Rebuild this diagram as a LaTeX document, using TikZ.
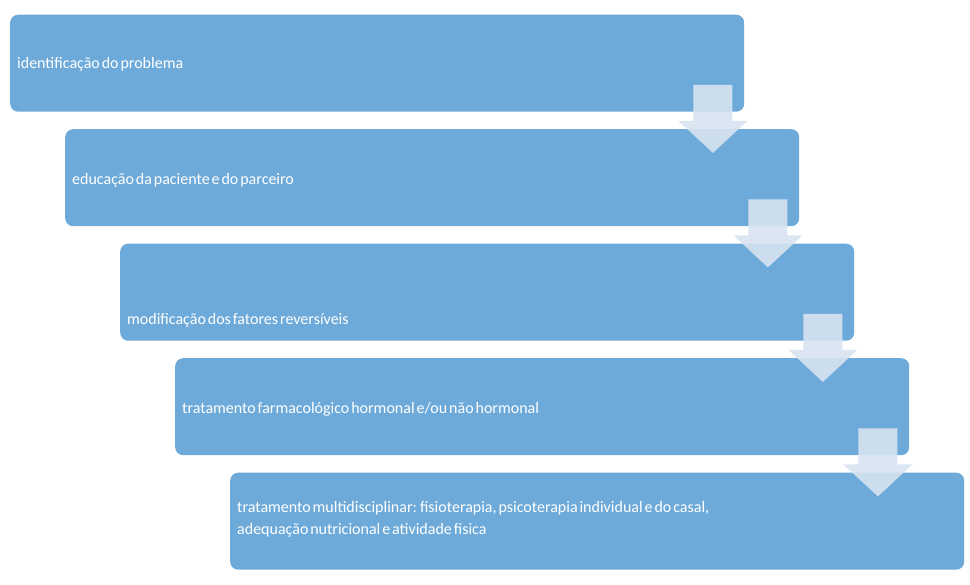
\documentclass[tikz,border=0pt]{standalone}
\usepackage{fontspec}
\setmainfont{Carlito}
\usetikzlibrary{calc}
\definecolor{boxblue}{HTML}{6DAAD9}
\definecolor{arrowblue}{HTML}{D7E3F1}
\newcommand{\lblfont}{\fontsize{16}{22}\selectfont\spaceskip=0.12em plus 0.02em minus 0.02em\relax}
\tikzset{
  stagebox/.style={fill=boxblue, rounded corners=8pt, minimum width=734pt, minimum height=97pt, inner sep=0pt, anchor=north west},
  lbl/.style={text=white, font=\lblfont, anchor=west, align=left, inner sep=0pt},
  downarrow/.style={fill=arrowblue, fill opacity=0.9}
}
\begin{document}
\begin{tikzpicture}[x=1pt,y=-1pt]
\useasboundingbox (0,0) rectangle (970,585);
\node[stagebox] (b1) at (10,14.5) {};
\node[stagebox] (b2) at (65,129) {};
\node[stagebox] (b3) at (120,243.5) {};
\node[stagebox] (b4) at (175,358) {};
\node[stagebox] (b5) at (230,472.5) {};
\node[lbl] (t1) at ($(b1.north west)+(7,50)$) {identificação do problema};
\node[lbl] (t2) at ($(b2.north west)+(7,51)$) {educação da paciente e do parceiro};
\node[lbl] (t3) at ($(b3.north west)+(7,77)$) {modificação dos fatores reversíveis};
\node[lbl] (t4) at ($(b4.north west)+(7,51)$) {tratamento farmacológico hormonal e/ou não hormonal};
\node[lbl] (t5) at ($(b5.north west)+(7,47)$) {tratamento multidisciplinar: fisioterapia, psicoterapia individual e do casal,\\adequação nutricional e atividade fisica};
\foreach \b in {b1,b2,b3,b4}{
  \fill[downarrow] ($(\b.south east)+(-51,-27)$) -- ($(\b.south east)+(-12,-27)$) -- ($(\b.south east)+(-12,9)$) -- ($(\b.south east)+(3,9)$) -- ($(\b.south east)+(-31.5,41)$) -- ($(\b.south east)+(-66,9)$) -- ($(\b.south east)+(-51,9)$) -- cycle;
}
\end{tikzpicture}
\end{document}
